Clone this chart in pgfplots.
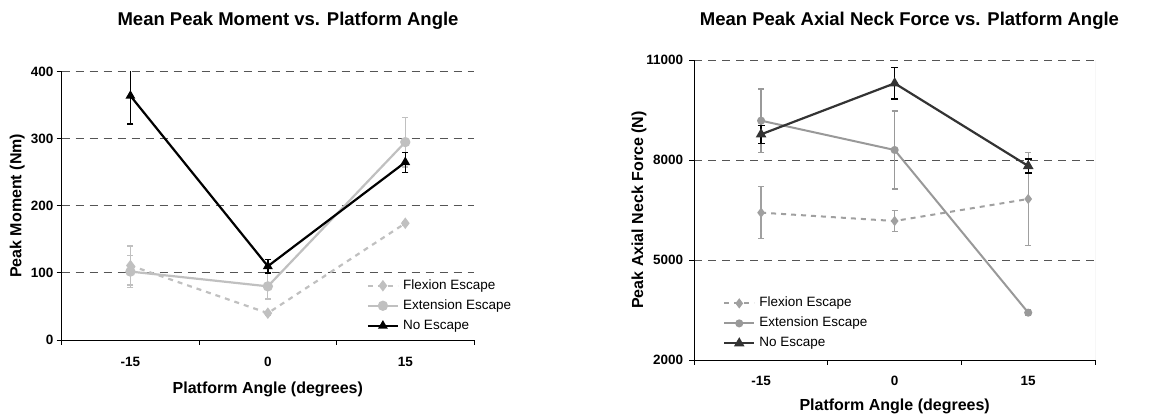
\documentclass[border=0pt]{standalone}
\usepackage{fontspec}
\setmainfont{Liberation Sans}
\usepackage{pgfplots}
\pgfplotsset{compat=1.18}
\definecolor{ltgray}{HTML}{C0C0C0}
\definecolor{midgray}{HTML}{A0A0A0}
\definecolor{extgray}{HTML}{999999}
\definecolor{dkgray}{HTML}{333333}
\definecolor{gridgray}{HTML}{555555}

\pgfplotsset{
  xlchart/.style={
    scale only axis,
    axis lines*=left,
    axis line style={black, line width=0.9pt},
    xmin=-0.5, xmax=2.5,
    xtick={0,1,2}, xticklabels={-15,0,15},
    major x tick style={draw=none},
    minor xtick={-0.5,0.5,1.5,2.5},
    minor x tick style={black, line width=0.9pt},
    minor tick length=5pt,
    tick align=outside,
    major tick length=5pt,
    y tick style={black, line width=0.9pt},
    scaled y ticks=false,
    ymajorgrids,
    major grid style={gridgray, line width=0.9pt, dash pattern=on 8pt off 6pt},
    ticklabel style={font=\fontsize{13.5}{15}\selectfont\bfseries},
    /pgf/number format/assume math mode=true,
    label style={font=\fontsize{16}{18}\selectfont\bfseries},
    title style={font=\fontsize{18.5}{20}\selectfont\bfseries, anchor=base},
    yticklabel style={anchor=east, inner sep=0pt, xshift=-3pt},
    xticklabel style={anchor=base, inner sep=0pt},
    legend cell align=left,
    legend style={draw=none, fill=none, inner sep=0pt, outer sep=0pt,
      anchor=north west,
      font=\fontsize{13.5}{15}\selectfont,
      nodes={inner sep=0pt, text height=9.5pt, text depth=2.5pt},
      row sep=8pt,
      /tikz/every odd column/.append style={column sep=4pt}},
    legend image code/.code={\draw[mark repeat=2,mark phase=2,##1]
      plot coordinates {(0pt,0pt) (15pt,0pt) (30pt,0pt)};},
    error bars/y dir=both, error bars/y explicit,
  }
}

\begin{document}
\begin{tikzpicture}
\useasboundingbox (0pt,0pt) rectangle (1176pt,419pt);

% --- linke Grafik: Moment
\begin{axis}[
  xlchart,
  at={(61.7pt,79pt)}, anchor=south west,
  width=412.3pt, height=268.3pt,
  ymin=0, ymax=400,
  ytick={0,100,200,300,400}, yticklabels={0,100,200,300,400},
  xticklabel style={yshift=-21.5pt},
  title={Mean Peak Moment vs. Platform Angle},
  title style={at={(axis description cs:0.549,1.151)}},
  xlabel={Platform Angle (degrees)},
  xlabel style={at={(axis description cs:0.5,-0.201)}, anchor=base},
  ylabel={Peak Moment (Nm)},
  ylabel style={at={(axis description cs:-0.0975,0.5)}, anchor=base, rotate=0},
  legend style={at={(axis description cs:0.740,0.2245)}},
]
\addplot[ltgray, line width=2.2pt, dash pattern=on 5pt off 5pt,
  mark=diamond*, mark size=4pt, mark options={solid},
  error bars/error bar style={ltgray, line width=1.2pt, solid},
  error bars/error mark options={rotate=90, mark size=3pt, ltgray, line width=1.2pt}]
  coordinates {(0,111) +- (0,29) (1,40) +- (0,3) (2,174) +- (0,3)};
\addlegendentry{Flexion Escape}
\addplot[ltgray, line width=2.2pt,
  mark=*, mark size=4pt,
  error bars/error bar style={ltgray, line width=1.2pt},
  error bars/error mark options={rotate=90, mark size=3pt, ltgray, line width=1.2pt}]
  coordinates {(0,102) +- (0,24) (1,80) +- (0,19) (2,295) +- (0,37)};
\addlegendentry{Extension Escape}
\addplot[black, line width=2.2pt,
  mark=triangle*, mark size=3.5pt,
  error bars/error bar style={black, line width=1.3pt},
  error bars/error mark options={rotate=90, mark size=3pt, black, line width=1.3pt}]
  coordinates {(0,364) +- (0,42) (1,110) +- (0,10) (2,265) +- (0,15)};
\addlegendentry{No Escape}
\end{axis}

% --- rechte Grafik: Axialkraft
\begin{axis}[
  xlchart,
  at={(694.3pt,59pt)}, anchor=south west,
  width=400.7pt, height=300pt,
  ymin=2000, ymax=11000,
  ytick={2000,5000,8000,11000}, yticklabels={2000,5000,8000,11000},
  yticklabel style={xshift=-3pt},
  xticklabel style={yshift=-20.5pt},
  title={Mean Peak Axial Neck Force vs. Platform Angle},
  title style={at={(axis description cs:0.537,1.094)}},
  xlabel={Platform Angle (degrees)},
  xlabel style={at={(axis description cs:0.5,-0.169)}, anchor=base},
  ylabel={Peak Axial Neck Force (N)},
  ylabel style={at={(axis description cs:-0.128,0.5)}, anchor=base, rotate=0},
  legend style={at={(axis description cs:0.072,0.2087)}},
]
\draw[ltgray, line width=0.8pt] (rel axis cs:1,0) -- (rel axis cs:1,1);
\addplot[midgray, line width=2pt, dash pattern=on 5pt off 5pt,
  mark=diamond*, mark size=3.5pt, mark options={solid},
  error bars/error bar style={midgray, line width=1.2pt, solid},
  error bars/error mark options={rotate=90, mark size=3pt, midgray, line width=1.2pt}]
  coordinates {(0,6420) +- (0,780) (1,6170) +- (0,310) (2,6830) +- (0,1400)};
\addlegendentry{Flexion Escape}
\addplot[extgray, line width=2pt,
  mark=*, mark size=3pt,
  error bars/error bar style={extgray, line width=1.2pt},
  error bars/error mark options={rotate=90, mark size=3pt, extgray, line width=1.2pt}]
  coordinates {(0,9180) +- (0,950) (1,8300) +- (0,1170) (2,3420) +- (0,80)};
\addlegendentry{Extension Escape}
\addplot[dkgray, line width=2.2pt,
  mark=triangle*, mark size=4pt,
  error bars/error bar style={black, line width=1.3pt},
  error bars/error mark options={rotate=90, mark size=3.5pt, black, line width=1.3pt}]
  coordinates {(0,8770) +- (0,265) (1,10300) +- (0,470) (2,7820) +- (0,210)};
\addlegendentry{No Escape}
\end{axis}
\end{tikzpicture}
\end{document}
